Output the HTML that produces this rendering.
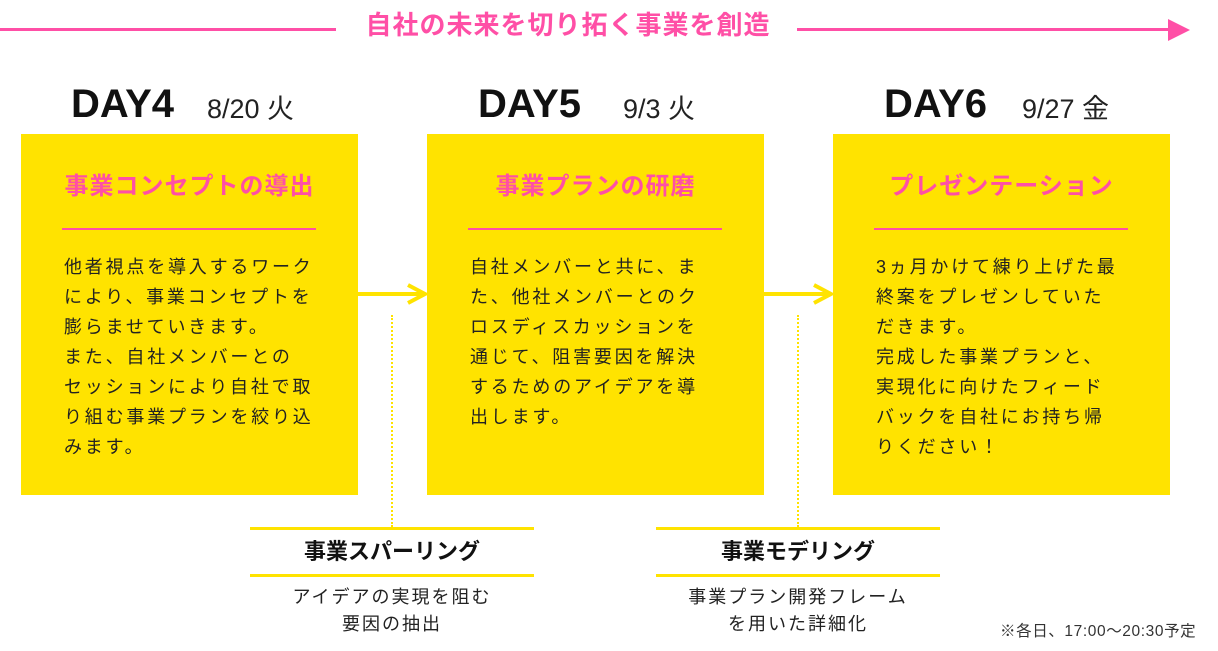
<!DOCTYPE html>
<html><head><meta charset="utf-8"><style>
*{margin:0;padding:0;box-sizing:border-box}
body{width:1218px;height:651px;background:#fff;position:relative;overflow:hidden;font-family:"Liberation Sans","Noto Sans CJK JP",sans-serif;color:#222}
.a{position:absolute}
.box{position:absolute;top:134px;width:337px;height:361px;background:#FFE300}
.box h2{position:absolute;top:32px;left:0;width:100%;text-align:center;font-size:24px;color:#FF4FA6;font-weight:bold;letter-spacing:1px}
.box .ul{position:absolute;top:94px;left:41px;width:254px;height:2px;background:#FF4FA6}
.box p{position:absolute;top:118px;left:43px;font-size:18px;line-height:30px;letter-spacing:2.8px;white-space:nowrap}
.day{position:absolute;top:82px;font-size:40px;font-weight:bold;color:#111}
.date{position:absolute;top:87px;font-size:27px;color:#222}
.arr{position:absolute;top:292px;height:4px;background:#FFE300}
.dot{position:absolute;width:0;border-left:2px dotted #FFE300}
.sub{position:absolute;top:527px;width:284px;height:50px;border-top:3px solid #FFE300;border-bottom:3px solid #FFE300;text-align:center;font-weight:bold;font-size:22px;line-height:44px;color:#111}
.sd{position:absolute;top:584px;width:284px;text-align:center;font-size:18px;line-height:27px;letter-spacing:2px}
</style></head><body>
<div class="a" style="left:0;top:28px;width:336px;height:3px;background:#FF4FA6"></div>
<div class="a" style="left:340px;top:5px;width:456px;text-align:center;font-size:26px;font-weight:bold;color:#FF4FA6;letter-spacing:1px">自社の未来を切り拓く事業を創造</div>
<div class="a" style="left:797px;top:28px;width:378px;height:3px;background:#FF4FA6"></div>
<svg class="a" style="left:1168px;top:19px" width="24" height="22"><polygon points="0,0 22,11 0,22" fill="#FF4FA6"/></svg>

<div class="day" style="left:71px">DAY4</div><div class="date" style="left:207px">8/20 火</div>
<div class="day" style="left:478px">DAY5</div><div class="date" style="left:623px">9/3 火</div>
<div class="day" style="left:884px">DAY6</div><div class="date" style="left:1022px">9/27 金</div>

<div class="box" style="left:21px"><h2>事業コンセプトの導出</h2><div class="ul"></div><p>他者視点を導入するワーク<br>により、事業コンセプトを<br>膨らませていきます。<br>また、自社メンバーとの<br>セッションにより自社で取<br>り組む事業プランを絞り込<br>みます。</p></div>
<div class="box" style="left:427px"><h2>事業プランの研磨</h2><div class="ul"></div><p>自社メンバーと共に、ま<br>た、他社メンバーとのク<br>ロスディスカッションを<br>通じて、阻害要因を解決<br>するためのアイデアを導<br>出します。</p></div>
<div class="box" style="left:833px"><h2>プレゼンテーション</h2><div class="ul"></div><p>3ヵ月かけて練り上げた最<br>終案をプレゼンしていた<br>だきます。<br>完成した事業プランと、<br>実現化に向けたフィード<br>バックを自社にお持ち帰<br>りください！</p></div>

<div class="arr" style="left:358px;width:64px"></div>
<svg class="a" style="left:405px;top:282px" width="24" height="24"><polyline points="3,3 20,12 3,21" fill="none" stroke="#FFE300" stroke-width="4"/></svg>
<div class="arr" style="left:764px;width:64px"></div>
<svg class="a" style="left:811px;top:282px" width="24" height="24"><polyline points="3,3 20,12 3,21" fill="none" stroke="#FFE300" stroke-width="4"/></svg>

<div class="dot" style="left:391px;top:315px;height:212px"></div>
<div class="dot" style="left:797px;top:315px;height:212px"></div>

<div class="sub" style="left:250px">事業スパーリング</div>
<div class="sd" style="left:250px">アイデアの実現を阻む<br>要因の抽出</div>
<div class="sub" style="left:656px">事業モデリング</div>
<div class="sd" style="left:656px">事業プラン開発フレーム<br>を用いた詳細化</div>

<div class="a" style="left:1000px;top:619px;font-size:15.5px;color:#333;letter-spacing:0.6px">※各日、17:00〜20:30予定</div>
</body></html>
